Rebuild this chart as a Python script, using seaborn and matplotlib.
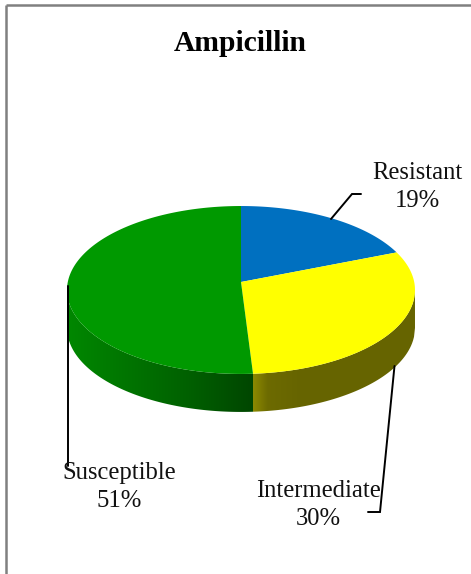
import numpy as np
import matplotlib
matplotlib.use("Agg")
import matplotlib.pyplot as plt
import seaborn as sns

title = "Ampicillin"
categories = ["Resistant", "Intermediate", "Susceptible"]
shares = [19, 30, 51]
palette = ["#0070C0", "#FFFF00", "#009900"]

sns.set_theme(style="white")
plt.rcParams["font.family"] = ["Liberation Serif", "DejaVu Serif"]

CX, CY = 241.0, 282.0      # pie apex on the canvas
SX, SY = 173.2, 83.2       # projected radii
TILT = 0.095               # perspective strength of the disc
DEPTH = 38.0               # height of the extruded rim


def project(theta):
    """Map clockwise-from-top angles (radians) on the disc to canvas points."""
    u, v = np.sin(theta), np.cos(theta)
    w = 1 + TILT * v
    return CX + SX * u / w, CY - SY * v / w


def rim_shade(x, kind):
    """Rim colour at canvas position x; the rim darkens towards the front."""
    if kind == "Susceptible":
        g = np.interp(x, [67, 130, 190, 257], [135, 115, 95, 68])
        return (0, g / 255, 0)
    level = np.interp(x, [253, 268, 300, 415], [140, 108, 102, 102])
    return (level / 255, level * 0.98 / 255, 0)


fig = plt.figure(figsize=(4.71, 5.74), dpi=100, facecolor="white")
ax = fig.add_axes([0, 0, 1, 1])
ax.set_xlim(0, 471)
ax.set_ylim(574, 0)
ax.axis("off")

# Wedge limits run clockwise from twelve o'clock.
edges = np.cumsum([0] + shares) / sum(shares) * 2 * np.pi

# The visible rim spans the two horizontal extremes of the projected disc.
rim_start = np.arccos(-TILT)
rim_stop = 2 * np.pi - rim_start

# Rim first, built from pixel-wide columns under the front of the disc.
for name, start, stop in zip(categories, edges[:-1], edges[1:]):
    if name == "Resistant":
        continue
    thetas = np.linspace(max(start, rim_start), min(stop, rim_stop), 1200)
    xs, ys = project(thetas)
    order = np.argsort(xs)
    xs, ys = xs[order], ys[order]
    columns = np.r_[xs[0], np.arange(np.ceil(xs[0]), np.floor(xs[-1]) + 1), xs[-1]]
    for left, right in zip(columns[:-1], columns[1:]):
        if right <= left:
            continue
        top = np.interp([left, right], xs, ys)
        ax.fill([left, right, right, left],
                [top[0], top[1], top[1] + DEPTH, top[0] + DEPTH],
                color=rim_shade((left + right) / 2, name), lw=0, zorder=2)

# Top face of the disc.
for name, colour, start, stop in zip(categories, palette, edges[:-1], edges[1:]):
    xs, ys = project(np.linspace(start, stop, 200))
    ax.fill(np.r_[CX, xs], np.r_[CY, ys], color=colour, lw=0, zorder=3)

# Leader lines.
leader = dict(color="black", lw=1.4, solid_joinstyle="miter", zorder=4)
ax.plot([331, 352, 361], [219, 194, 194], **leader)
ax.plot([394.5, 380, 368], [366, 512, 512], **leader)
ax.plot([67.5, 67.5], [286, 466], **leader)

# Slice labels.
label_pos = {"Resistant": (417, 187), "Intermediate": (318.5, 505), "Susceptible": (119.5, 487)}
for name, share in zip(categories, shares):
    x, y = label_pos[name]
    ax.text(x, y, f"{name}\n{share}%", ha="center", va="center", fontsize=17.7,
            color="#111111", linespacing=1.36, zorder=5)

ax.text(240.5, 43.5, title, ha="center", va="center", fontsize=21.3,
        fontweight="bold", color="black")

# Frame along the top and left edges.
frame = dict(color="#808080", lw=1.8, solid_capstyle="butt", zorder=6)
ax.plot([6, 471], [5, 5], **frame)
ax.plot([6, 6], [5, 574], **frame)

fig.savefig("out.png", dpi=100)
